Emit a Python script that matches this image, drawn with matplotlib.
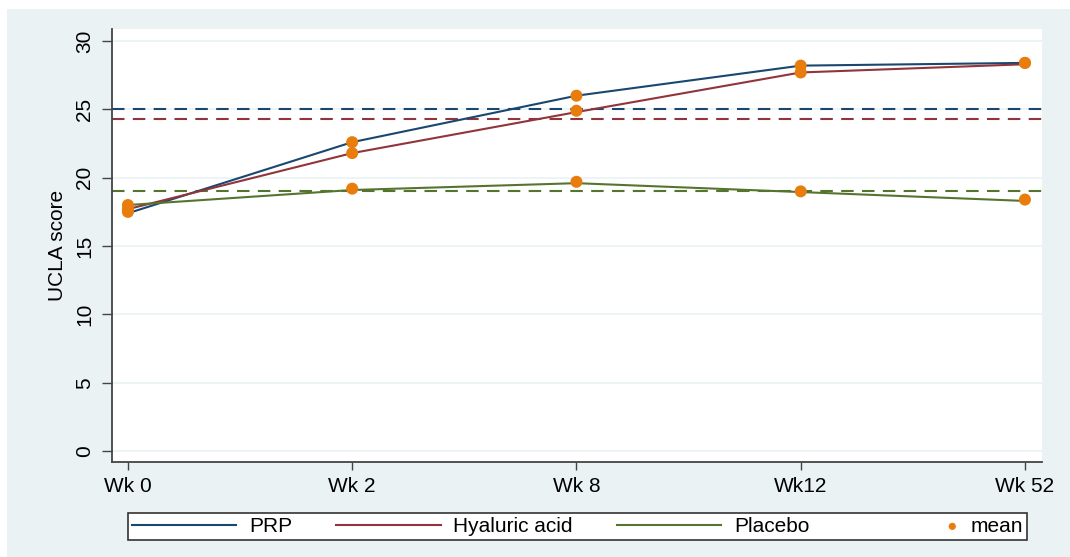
import numpy as np
import matplotlib.pyplot as plt
from matplotlib.patches import Rectangle
from matplotlib.legend_handler import HandlerPathCollection
from matplotlib.collections import PathCollection

plt.rcParams['font.family'] = ['Liberation Sans', 'DejaVu Sans']

# Data
weeks = ['Wk 0', 'Wk 2', 'Wk 8', 'Wk12', 'Wk 52']
prp_line = [17.4, 22.6, 26.0, 28.2, 28.4]
ha_line = [17.7, 21.8, 24.8, 27.7, 28.3]
placebo_line = [18.0, 19.1, 19.6, 18.95, 18.3]

prp_mean = [17.5, 22.6, 26.0, 28.2, 28.4]
ha_mean = [17.7, 21.8, 24.9, 27.7, 28.4]
placebo_mean = [18.0, 19.2, 19.7, 19.0, 18.4]

# overall averages shown as dashed reference lines
prp_ref = 25.0
ha_ref = 24.3
placebo_ref = 19.0

navy = '#1A476F'
maroon = '#90353B'
green = '#55752F'
orange = '#E87D0D'
bg = '#EAF2F3'


# put the "mean" dot at the right end of its legend handle, next to the text
class DotRight(HandlerPathCollection):
    def get_xdata(self, legend, xdescent, ydescent, width, height, fontsize):
        xdata = [-xdescent, -xdescent + width]
        return xdata, [-xdescent + width - 4]


fig = plt.figure(figsize=(10.7, 5.57), dpi=100, facecolor='white')
# light background panel (small white strip on top and left)
fig.patches.append(Rectangle((7 / 1070, 0), 1, 1 - 9 / 557, transform=fig.transFigure,
                             facecolor=bg, edgecolor='none', zorder=0))

ax = fig.add_axes([112 / 1070, 1 - 462 / 557, 930 / 1070, 433 / 557])
ax.set_zorder(1)
ax.set_facecolor('white')

x = np.arange(len(weeks))

ax.axhline(prp_ref, color=navy, lw=1.5, ls=(0, (6, 4)), zorder=2)
ax.axhline(ha_ref, color=maroon, lw=1.5, ls=(0, (6, 4)), zorder=2)
ax.axhline(placebo_ref, color=green, lw=1.5, ls=(0, (6, 4)), zorder=2)

ax.plot(x, prp_line, color=navy, lw=1.5, label='PRP', zorder=3)
ax.plot(x, ha_line, color=maroon, lw=1.5, label='Hyaluric acid', zorder=3)
ax.plot(x, placebo_line, color=green, lw=1.5, label='Placebo', zorder=3)

means = np.concatenate([prp_mean, ha_mean, placebo_mean])
xs = np.concatenate([x, x, x])
ax.scatter(xs, means, s=75, color=orange, edgecolors='none', label='mean', zorder=4)

ax.set_xlim(-0.071, 4.076)
ax.set_ylim(-0.8, 30.88)
ax.set_xticks(x)
ax.set_xticklabels(weeks, fontsize=15)
ax.set_yticks(np.arange(0, 31, 5))
ax.set_yticklabels([str(v) for v in range(0, 31, 5)], fontsize=15, rotation=90, va='center')
ax.set_ylabel('UCLA score', fontsize=15, labelpad=6)

ax.grid(axis='y', color=bg, lw=1.2, zorder=0)
ax.set_axisbelow(True)
for side in ['top', 'right']:
    ax.spines[side].set_visible(False)
for side in ['left', 'bottom']:
    ax.spines[side].set_color('#444444')
    ax.spines[side].set_linewidth(1.3)
ax.tick_params(axis='y', length=7, width=1, color='#444444', pad=6)
ax.tick_params(axis='x', length=6, width=1, color='#444444', pad=5)

leg = fig.legend(loc='lower left', bbox_to_anchor=(128 / 1070, 1 - 540 / 557, 899 / 1070, 26 / 557),
                 ncol=4, mode='expand', fontsize=15, frameon=True, fancybox=False,
                 facecolor='white', framealpha=1, edgecolor='#333333', handlelength=5,
                 borderpad=0.2, handletextpad=0.6, markerscale=0.6, borderaxespad=0,
                 handler_map={PathCollection: DotRight()})
leg.get_frame().set_linewidth(1.2)

fig.savefig('out.png', dpi=100, facecolor=fig.get_facecolor())
